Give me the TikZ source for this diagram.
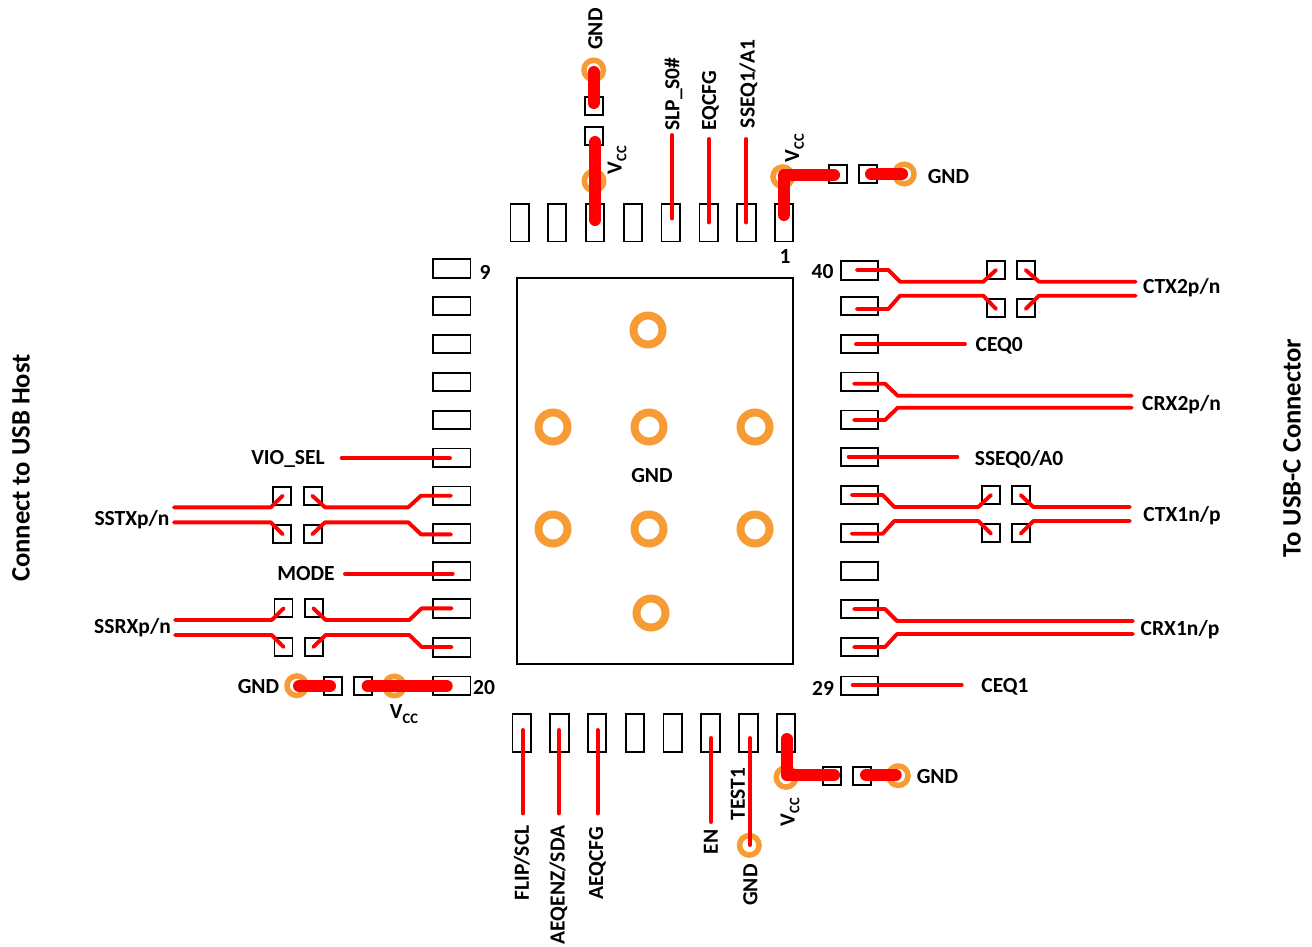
\documentclass[tikz,border=0pt]{standalone}
\usepackage{fontspec}
\setmainfont{Carlito}[BoldFont={Carlito Bold}]
\definecolor{viaorange}{HTML}{F79B35}
\definecolor{tracered}{HTML}{FF0000}
\tikzset{
  lbl/.style={font=\fontsize{21.5}{23}\selectfont\bfseries, inner sep=0pt, text=black},
  biglbl/.style={font=\fontsize{26.6}{28}\selectfont\bfseries, inner sep=0pt, rotate=90, text=black},
  vpad/.style={draw=black, line width=1.9pt, fill=white, minimum width=18.5pt, minimum height=37.5pt, inner sep=0pt},
  hpad/.style={draw=black, line width=1.9pt, fill=white, minimum width=37.5pt, minimum height=18.5pt, inner sep=0pt},
  spad/.style={draw=black, line width=1.9pt, fill=white, minimum width=18pt, minimum height=18pt, inner sep=0pt},
  smallvia/.style={circle, draw=viaorange, line width=5.5pt, fill=white, minimum size=19.5pt, inner sep=0pt},
  bigvia/.style={circle, draw=viaorange, line width=8pt, fill=white, minimum size=29pt, inner sep=0pt},
  trace/.style={draw=tracered, line width=3.9pt, line cap=round, line join=round},
  power/.style={draw=tracered, line width=12pt, line cap=round, line join=round},
}
\newcommand{\vcclbl}{V\raisebox{-.22em}{\fontsize{14.5}{15}\selectfont CC}}
\begin{document}
\begin{tikzpicture}[x=1pt,y=-1pt]
\useasboundingbox (0,0) rectangle (1312,946);
% package
\node[draw=black, line width=2pt, minimum width=276pt, minimum height=386pt, inner sep=0pt] (epad) at (655,471) {};
% central vias
\foreach \n/\x/\y in {a/648/330, b/553/427, c/649/427, d/755/427, e/553/529, f/649/529, g/755/529, h/651/613}
  \node[bigvia] (cv\n) at (\x,\y) {};
\node[lbl] (epadgnd) at (652,476) {GND};
% top pads
\foreach \n/\x in {1/784, 2/746.3, 3/708.7, 4/670.7, 5/633, 6/595, 7/557, 8/519.7}
  \node[vpad] (t\n) at (\x,222.7) {};
% bottom pads
\foreach \n/\x in {1/521.7, 2/559.3, 3/597, 4/635, 5/672.7, 6/710.3, 7/748.3, 8/786}
  \node[vpad] (b\n) at (\x,733) {};
% left pads
\foreach \n/\y in {1/268.5, 2/306, 3/344, 4/382, 5/420, 6/457.7, 7/495.7, 8/533.6, 9/571, 10/608.3, 11/647.3, 12/685.7}
  \node[hpad] (l\n) at (451.7,\y) {};
% right pads
\foreach \n/\y in {1/270.5, 2/306, 3/344, 4/381.7, 5/419.7, 6/457, 7/495, 8/533, 9/571, 10/609, 11/647, 12/685.7}
  \node[hpad] (r\n) at (859.5,\y) {};
% small pads
\foreach \n/\x/\y in {
  a/593.7/106, b/593.7/136, c/837.7/174, d/867.7/174,
  e/995.7/270, f/1025.7/270, g/995.7/308.3, h/1025.7/308.3,
  i/990.7/495, j/1020.7/495, k/990.7/532.7, l/1020.7/532.7,
  m/282.3/496, n/312.7/496, o/282.3/533.7, p/312.7/533.7,
  q/283.5/608, r/313.7/608, s/283.5/646.7, t/313.7/646.7,
  u/333.3/686, v/363.3/686, w/831.7/775.7, x/861.7/775.7}
  \node[spad] (s\n) at (\x,\y) {};
% small vias
\foreach \n/\x/\y in {a/593.7/70, b/594/181, c/782.7/176.7, d/904.3/174,
  e/296.7/685.7, f/394.3/686, g/749.3/845.3, h/786/777.3, i/898.3/775.7}
  \node[smallvia] (v\n) at (\x,\y) {};
% signal traces: right
\draw[trace] (856.7,270)--(888.3,270)--(900,281.7)--(983.3,281.7)--(996,270);
\draw[trace] (856.7,309)--(888.3,309)--(900,295.7)--(983.3,295.7)--(996,309);
\draw[trace] (1025.7,270)--(1039,281.7)--(1135.7,281.7);
\draw[trace] (1025.7,309)--(1039,295.7)--(1135.7,295.7);
\draw[trace] (856,344.3)--(965,344.3);
\draw[trace] (854,383.7)--(885,383.7)--(897.7,395.7)--(1131.7,395.7);
\draw[trace] (854,420)--(885,420)--(897.7,407.7)--(1131.7,407.7);
\draw[trace] (848.7,456.7)--(957.3,456.7);
\draw[trace] (851.7,495)--(882.7,495)--(894.3,507)--(978.3,507)--(991,495);
\draw[trace] (851.7,533.7)--(882.7,533.7)--(894.3,521)--(978.3,521)--(991,533.7);
\draw[trace] (1020.7,495)--(1033.3,507)--(1130,507);
\draw[trace] (1020.7,533.7)--(1033.3,521)--(1130,521);
\draw[trace] (854,609)--(885,609)--(897,621)--(1133,621);
\draw[trace] (854,647)--(885,647)--(897,634)--(1133,634);
\draw[trace] (852.7,685)--(961.7,685);
% signal traces: left
\draw[trace] (341.7,458.3)--(450,458.3);
\draw[trace] (174,507.3)--(270.7,507.3)--(282.7,495.7);
\draw[trace] (174,522.3)--(270.7,522.3)--(282.7,534.3);
\draw[trace] (312.3,495.7)--(325,507.3)--(408.3,507.3)--(421,495.7)--(451,495.7);
\draw[trace] (312.3,534.3)--(325,522.3)--(408.3,522.3)--(421,534.3)--(451,534.3);
\draw[trace] (345,573.7)--(452.7,573.7);
\draw[trace] (175,620)--(271.7,620)--(283.7,608.3);
\draw[trace] (175,635)--(271.7,635)--(283.7,647);
\draw[trace] (313.3,608.3)--(325.7,620)--(409.3,620)--(421.7,608.3)--(451.7,608.3);
\draw[trace] (313.3,647)--(325.7,635)--(409.3,635)--(421.7,647)--(451.7,647);
% signal traces: top and bottom
\draw[trace] (672,135)--(672,218.5);
\draw[trace] (708.7,139)--(708.7,222.5);
\draw[trace] (746,139)--(746,222.5);
\draw[trace] (522.7,730)--(522.7,813.5);
\draw[trace] (558.7,730)--(558.7,813.5);
\draw[trace] (597.7,730)--(597.7,813.5);
\draw[trace] (710.7,738)--(710.7,822);
\draw[trace] (750,738)--(750,845);
% power traces
\draw[power] (593.7,72)--(593.7,103);
\draw[power] (595,142)--(595,220);
\draw[power] (784,215)--(784,175)--(834,175);
\draw[power] (871,174)--(902,174);
\draw[power] (299,686)--(330,686);
\draw[power] (367.7,686)--(446.7,686);
\draw[power] (786.7,739)--(786.7,775)--(834,775);
\draw[power] (866,775)--(895.7,775);
% labels: top
\node[lbl, rotate=90] (lgndt) at (595.5,29) {GND};
\node[lbl, rotate=90] (lslp) at (673.5,94) {SLP\_S0\#};
\node[lbl, rotate=90] (leqcfg) at (710.5,101) {EQCFG};
\node[lbl, rotate=90] (lsseq) at (748.5,84) {SSEQ1/A1};
\node[lbl, rotate=90] (lvcc1) at (617,160) {\vcclbl};
\node[lbl, rotate=90] (lvcc2) at (794.5,148) {\vcclbl};
\node[lbl] (lgndr) at (948.5,177) {GND};
\node[lbl] (pin1) at (785,257) {1};
\node[lbl] (pin40) at (822.5,272) {40};
\node[lbl] (pin9) at (485,272) {9};
\node[lbl] (pin20) at (484,688) {20};
\node[lbl] (pin29) at (823,688) {29};
% labels: right
\node[lbl] (lctx2) at (1181.7,288) {CTX2p/n};
\node[lbl] (lceq0) at (999.3,346) {CEQ0};
\node[lbl] (lcrx2) at (1181.5,405) {CRX2p/n};
\node[lbl] (lsseq0) at (1019,459) {SSEQ0/A0};
\node[lbl] (lctx1) at (1182,516) {CTX1n/p};
\node[lbl] (lcrx1) at (1180,630) {CRX1n/p};
\node[lbl] (lceq1) at (1005,687) {CEQ1};
% labels: left
\node[lbl] (lvio) at (288,459) {VIO\_SEL};
\node[lbl] (lsstx) at (132,520) {SSTXp/n};
\node[lbl] (lmode) at (306,574) {MODE};
\node[lbl] (lssrx) at (132.5,628) {SSRXp/n};
\node[lbl] (lgndl) at (258.5,686.5) {GND};
\node[lbl] (lvcc3) at (404,714) {\vcclbl};
% labels: bottom
\node[lbl, rotate=90] (lflip) at (521.7,863) {FLIP/SCL};
\node[lbl, rotate=90] (laeq) at (558.5,885) {AEQENZ/SDA};
\node[lbl, rotate=90] (lacfg) at (597.5,863) {AEQCFG};
\node[lbl, rotate=90] (len) at (711,842) {EN};
\node[lbl, rotate=90] (ltest) at (738,794) {TEST1};
\node[lbl, rotate=90] (lgndb) at (750.5,885) {GND};
\node[lbl, rotate=90] (lvcc4) at (790,812) {\vcclbl};
\node[lbl] (lgndbr) at (937.5,777) {GND};
% side titles
\node[biglbl] (lhost) at (21,468) {Connect to USB Host};
\node[biglbl] (lconn) at (1292,448) {To USB-C Connector};
\end{tikzpicture}
\end{document}
